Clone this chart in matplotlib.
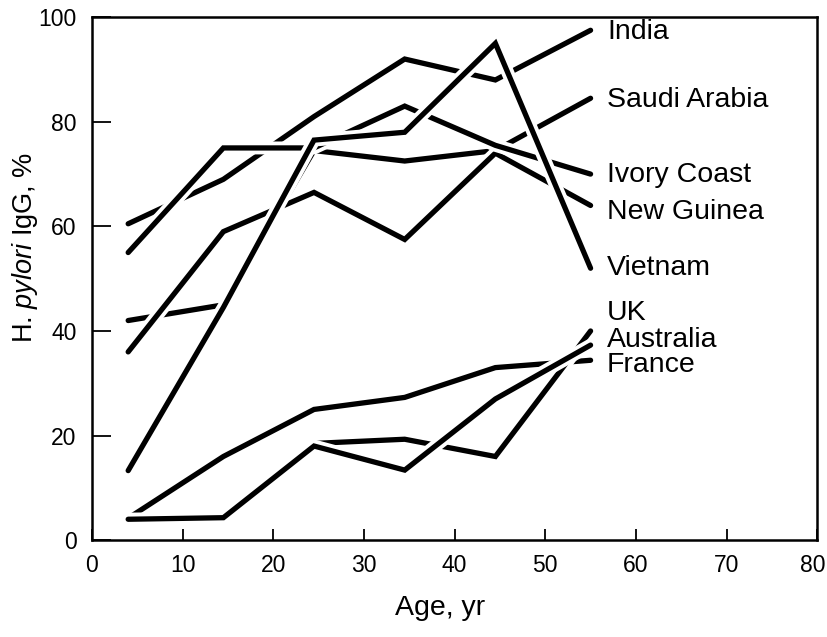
import matplotlib
matplotlib.use("Agg")
import matplotlib.pyplot as plt
import matplotlib.patheffects as pe
import matplotlib.transforms as mtransforms

plt.rcParams['font.family'] = ['Liberation Sans', 'DejaVu Sans']
plt.rcParams['mathtext.fontset'] = 'custom'
plt.rcParams['mathtext.rm'] = 'Liberation Sans'
plt.rcParams['mathtext.it'] = 'Liberation Sans:italic'

# Data (age group midpoints, % H. pylori IgG positive)
ages = [4, 14.5, 24.5, 34.5, 44.5, 55]
india = [60.5, 69, 81, 92, 88, 97.5]
saudi_arabia = [42, 45, 74.5, 72.5, 74.5, 84.5]
new_guinea = [36, 59, 66.5, 57.5, 74, 64]
ivory_coast = [55, 75, 75, 83, 75.5, 70]
vietnam = [13.3, 44.5, 76.5, 78, 95, 52]
france = [4.2, 16, 25, 27.3, 33, 34.4]
uk = [4, 4, 18.5, 19.3, 16, 40]
australia = [4, 4.3, 18, 13.4, 27, 37.3]

# drawing order (bottom to top) and labels
series = [
    ("India", india),
    ("Saudi Arabia", saudi_arabia),
    ("New Guinea", new_guinea),
    ("Ivory Coast", ivory_coast),
    ("Vietnam", vietnam),
    ("France", france),
    ("UK", uk),
    ("Australia", australia),
]
label_y = {"India": 97.1, "Saudi Arabia": 84.1, "Ivory Coast": 69.8,
           "New Guinea": 62.7, "Vietnam": 52, "UK": 43.4,
           "Australia": 38.2, "France": 33.5}

x_ticks = [0, 10, 20, 30, 40, 50, 60, 70, 80]
y_ticks = [0, 20, 40, 60, 80, 100]

fig = plt.figure(figsize=(8.28, 6.37), dpi=100)
ax = fig.add_axes([0.111, 0.152, 0.876, 0.821])

lw = 3.8
for name, vals in series:
    ax.plot(ages, vals, color='black', lw=lw, solid_capstyle='round',
            solid_joinstyle='miter',
            path_effects=[pe.Stroke(linewidth=lw + 5.5, foreground='white'),
                          pe.Normal()])

for name, _ in series:
    ax.text(56.8, label_y[name], name, fontsize=20.5, ha='left', va='center')

ax.set_xlim(0, 80)
ax.set_ylim(0, 100)
ax.set_xticks(x_ticks)
ax.set_yticks(y_ticks)
ax.tick_params(axis='x', direction='in', length=8, width=1.3, labelsize=16.5, pad=10)
ax.tick_params(axis='y', direction='in', length=14, width=1.3, labelsize=16.5, pad=11)
for s in ax.spines.values():
    s.set_linewidth(1.8)

# keep the last x tick label inside the canvas
fig.canvas.draw()
last = ax.get_xticklabels()[-1]
last.set_transform(last.get_transform() +
                   mtransforms.ScaledTranslation(-4 / 100, 0, fig.dpi_scale_trans))

ax.set_xlabel('Age, yr', fontsize=20.5)
ax.xaxis.set_label_coords(0.48, -0.105)
ax.set_ylabel(r'H. $\it{pylori}$ IgG, %', fontsize=19.5)
ax.yaxis.set_label_coords(-0.072, 0.56)

fig.savefig('out.png', dpi=100)
